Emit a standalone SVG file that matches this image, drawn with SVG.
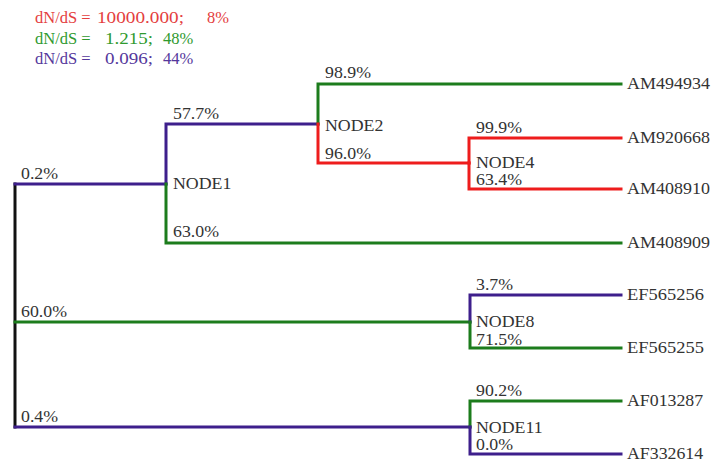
<svg xmlns="http://www.w3.org/2000/svg" width="715" height="463" viewBox="0 0 715 463">
  <style>
    .br { fill: none; stroke-width: 3; stroke-linejoin: miter; stroke-linecap: square; }
    .red { stroke: #ee1c1c; }
    .grn { stroke: #1c7c1c; }
    .pur { stroke: #3e1f8c; }
    .blk { stroke: #111111; }
    .lbl { font-family: 'Liberation Serif', 'DejaVu Serif', serif; font-size: 16.5px; fill: #333333; }
    .leg { font-family: 'Liberation Serif', 'DejaVu Serif', serif; font-size: 16.5px; }
  </style>
  <rect width="715" height="463" fill="#ffffff"/>

  <!-- legend: dN/dS classes and their proportions -->
  <g id="legend">
    <text class="leg" fill="#e43e3e" y="23"><tspan x="35">dN/dS =</tspan><tspan x="97" textLength="87" lengthAdjust="spacingAndGlyphs">10000.000;</tspan><tspan x="207">8%</tspan></text>
    <text class="leg" fill="#2f9a2f" y="44"><tspan x="35">dN/dS =</tspan><tspan x="105" textLength="48" lengthAdjust="spacingAndGlyphs">1.215;</tspan><tspan x="163">48%</tspan></text>
    <text class="leg" fill="#55389c" y="64"><tspan x="35">dN/dS =</tspan><tspan x="105" textLength="48" lengthAdjust="spacingAndGlyphs">0.096;</tspan><tspan x="163">44%</tspan></text>
  </g>

  <!-- branches -->
  <g id="connectors">
    <path class="br blk" d="M15 184 V427"/>
    <path class="br pur" d="M15 184 H166"/>
    <path class="br grn" d="M15 322 H470"/>
    <path class="br pur" d="M15 427 H470"/>
    <path class="br pur" d="M166 184 V124 H318"/>
    <path class="br grn" d="M166 184 V243 H621"/>
    <path class="br grn" d="M318 124 V84 H621"/>
    <path class="br red" d="M318 124 V163 H469"/>
    <path class="br red" d="M469 163 V138 H621"/>
    <path class="br red" d="M469 163 V189 H621"/>
    <path class="br pur" d="M470 322 V295 H621"/>
    <path class="br grn" d="M470 322 V348 H621"/>
    <path class="br grn" d="M470 427 V401 H621"/>
    <path class="br pur" d="M470 427 V454 H621"/>
  </g>

  <!-- branch support labels -->
  <g id="branch-labels">
    <text class="lbl" transform="translate(21 179) scale(1.08 1)">0.2%</text>
    <text class="lbl" transform="translate(21 317) scale(1.08 1)">60.0%</text>
    <text class="lbl" transform="translate(21 422) scale(1.08 1)">0.4%</text>
    <text class="lbl" transform="translate(173 119) scale(1.08 1)">57.7%</text>
    <text class="lbl" transform="translate(173 237) scale(1.08 1)">63.0%</text>
    <text class="lbl" transform="translate(325 78) scale(1.08 1)">98.9%</text>
    <text class="lbl" transform="translate(325 159) scale(1.08 1)">96.0%</text>
    <text class="lbl" transform="translate(476 133) scale(1.08 1)">99.9%</text>
    <text class="lbl" transform="translate(476 185) scale(1.08 1)">63.4%</text>
    <text class="lbl" transform="translate(476 290) scale(1.08 1)">3.7%</text>
    <text class="lbl" transform="translate(476 345) scale(1.08 1)">71.5%</text>
    <text class="lbl" transform="translate(476 396) scale(1.08 1)">90.2%</text>
    <text class="lbl" transform="translate(476 450) scale(1.08 1)">0.0%</text>
  </g>

  <!-- internal nodes -->
  <g id="node1"><text class="lbl" transform="translate(173 189) scale(1.08 1)">NODE1</text></g>
  <g id="node2"><text class="lbl" transform="translate(325 131) scale(1.08 1)">NODE2</text></g>
  <g id="node4"><text class="lbl" transform="translate(476 168) scale(1.08 1)">NODE4</text></g>
  <g id="node8"><text class="lbl" transform="translate(476 327) scale(1.08 1)">NODE8</text></g>
  <g id="node11"><text class="lbl" transform="translate(476 433) scale(1.08 1)">NODE11</text></g>

  <!-- leaves -->
  <g id="AM494934"><text class="lbl" transform="translate(627 89) scale(1.09 1)">AM494934</text></g>
  <g id="AM920668"><text class="lbl" transform="translate(627 143) scale(1.09 1)">AM920668</text></g>
  <g id="AM408910"><text class="lbl" transform="translate(627 194) scale(1.09 1)">AM408910</text></g>
  <g id="AM408909"><text class="lbl" transform="translate(627 248) scale(1.09 1)">AM408909</text></g>
  <g id="EF565256"><text class="lbl" transform="translate(627 300) scale(1.12 1)">EF565256</text></g>
  <g id="EF565255"><text class="lbl" transform="translate(627 353) scale(1.12 1)">EF565255</text></g>
  <g id="AF013287"><text class="lbl" transform="translate(627 406) scale(1.08 1)">AF013287</text></g>
  <g id="AF332614"><text class="lbl" transform="translate(627 459) scale(1.08 1)">AF332614</text></g>
</svg>
